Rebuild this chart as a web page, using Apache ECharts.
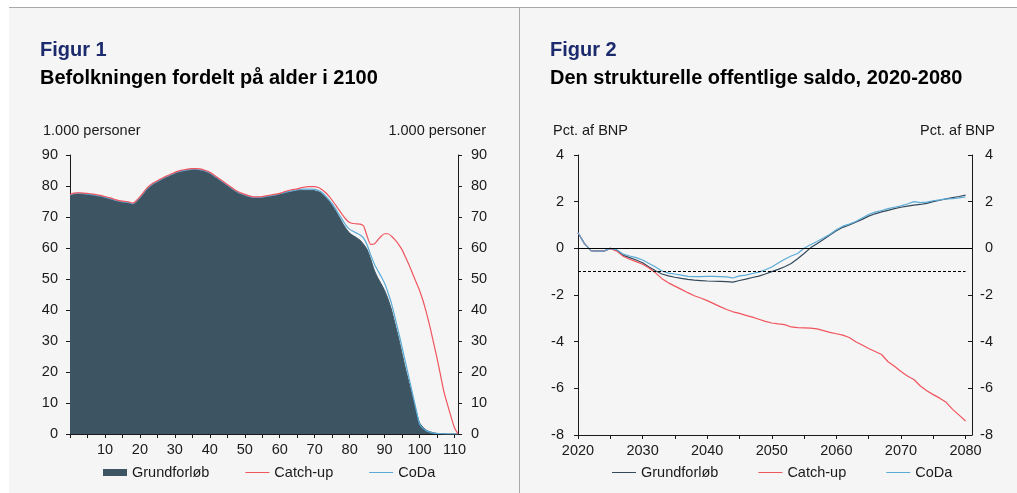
<!DOCTYPE html>
<html>
<head>
    <title></title>
    <meta charset="UTF-8">
    <script src="https://cdn.jsdelivr.net/npm/echarts@6/dist/echarts.min.js"></script>
</head>
<style type="text/css">
    html,
    body {
        height: 100%;
        width: 100%;
        margin: 0;
        padding: 0;
        background: #fff;
        overflow: hidden;
    }
    #panel {
        position: absolute;
        left: 9px;
        top: 7px;
        right: 0;
        bottom: 0;
        background: #f5f5f5;
        border-top: 1px solid #a9a9a9;
    }
    #divider {
        position: absolute;
        left: 519px;
        top: 7px;
        bottom: 0;
        width: 1px;
        background: #a9a9a9;
    }
    #main {
        position: absolute;
        left: 0;
        top: 0;
        width: 1017px;
        height: 493px;
    }
</style>
<body>
    <div id="panel"></div>
    <div id="divider"></div>
    <div id="main"></div>
</body>
<script>
    // Figur 1: alder 0-111
    var ages = [];
    for (var a = 0; a <= 111; a++) ages.push(String(a));

    var grundAlder = [
        77.0, 77.4, 77.5, 77.5, 77.4, 77.3, 77.2, 77.0, 76.8, 76.6,
        76.3, 76.0, 75.7, 75.3, 75.0, 74.8, 74.7, 74.5, 74.2, 75.0,
        76.2, 77.6, 79.0, 80.0, 80.8, 81.4, 82.0, 82.6, 83.1, 83.6,
        84.1, 84.5, 84.8, 85.0, 85.2, 85.3, 85.3, 85.2, 85.0, 84.6,
        84.1, 83.4, 82.6, 81.8, 81.0, 80.2, 79.4, 78.6, 77.9, 77.4,
        77.0, 76.6, 76.3, 76.2, 76.2, 76.3, 76.5, 76.7, 76.9, 77.1,
        77.4, 77.7, 78.0, 78.2, 78.4, 78.5, 78.6, 78.6, 78.6, 78.6,
        78.5, 78.2, 77.6, 76.6, 75.3, 73.8, 72.0, 70.0, 68.0, 66.2,
        64.8, 64.0, 63.3, 62.5, 61.2, 59.5, 56.5, 53.0, 50.5, 48.5,
        46.3, 43.5, 40.0, 35.5, 31.0, 26.0, 21.0, 16.5, 12.0, 7.5,
        3.6, 2.2, 1.2, 0.7, 0.4, 0.2, 0.1, 0.05, 0, 0,
        0, 0
    ];
    var catchAlder = [
        77.3, 77.7, 77.8, 77.8, 77.7, 77.6, 77.5, 77.3, 77.1, 76.9,
        76.6, 76.3, 76.0, 75.6, 75.3, 75.1, 75.0, 74.8, 74.5, 75.3,
        76.5, 77.9, 79.3, 80.3, 81.1, 81.7, 82.3, 82.9, 83.4, 83.9,
        84.4, 84.8, 85.1, 85.3, 85.5, 85.6, 85.6, 85.5, 85.3, 84.9,
        84.4, 83.7, 82.9, 82.1, 81.3, 80.5, 79.7, 78.9, 78.2, 77.7,
        77.3, 76.9, 76.6, 76.5, 76.5, 76.6, 76.8, 77.0, 77.2, 77.4,
        77.6, 78.0, 78.4, 78.7, 78.9, 79.1, 79.4, 79.6, 79.8, 79.8,
        79.8, 79.5, 78.9, 78.0, 76.8, 75.4, 73.8, 72.2, 70.6, 69.2,
        68.2, 67.9, 67.8, 67.7, 67.1, 63.8, 61.2, 61.3, 62.5, 63.8,
        64.6, 64.6, 63.8, 62.6, 61.2, 59.4, 57.0, 54.5, 51.8, 49.0,
        46.3, 43.0, 39.0, 34.5, 29.5, 24.5, 19.0, 13.5, 9.5, 5.6,
        2.0, 0
    ];
    var codaAlder = [
        77.1, 77.5, 77.6, 77.6, 77.5, 77.4, 77.3, 77.1, 76.9, 76.7,
        76.4, 76.1, 75.8, 75.4, 75.1, 74.9, 74.8, 74.6, 74.3, 75.1,
        76.3, 77.7, 79.1, 80.1, 80.9, 81.5, 82.1, 82.7, 83.2, 83.7,
        84.2, 84.6, 84.9, 85.1, 85.3, 85.4, 85.4, 85.3, 85.1, 84.7,
        84.2, 83.5, 82.7, 81.9, 81.1, 80.3, 79.5, 78.7, 78.0, 77.5,
        77.1, 76.7, 76.4, 76.3, 76.3, 76.4, 76.6, 76.8, 77.0, 77.2,
        77.5, 77.8, 78.1, 78.3, 78.6, 78.8, 78.9, 79.0, 79.0, 79.0,
        78.9, 78.6, 78.0, 76.9, 75.7, 74.3, 72.6, 70.8, 69.0, 67.2,
        66.0, 65.4, 64.8, 64.2, 63.2, 61.0, 57.8, 55.0, 52.8, 50.8,
        48.6, 45.5, 42.0, 37.5, 32.8, 28.0, 23.0, 18.0, 13.0, 8.0,
        3.2, 1.8, 1.0, 0.6, 0.3, 0.15, 0.1, 0.05, 0, 0,
        0, 0
    ];

    // Figur 2: år 2020-2081 (data til 2080)
    var years = [];
    for (var y = 2020; y <= 2081; y++) years.push(String(y));

    var grundSaldo = [
        0.67, 0.2, -0.1, -0.12, -0.12, 0.0, -0.08, -0.3, -0.4, -0.5,
        -0.62, -0.8, -0.96, -1.1, -1.18, -1.24, -1.29, -1.33, -1.36, -1.38,
        -1.4, -1.41, -1.42, -1.43, -1.45, -1.38, -1.32, -1.25, -1.19, -1.1,
        -1.0, -0.9, -0.79, -0.65, -0.45, -0.22, 0.02, 0.2, 0.38, 0.57,
        0.75, 0.9, 1.0, 1.12, 1.24, 1.38, 1.48, 1.56, 1.63, 1.7,
        1.76, 1.81, 1.85, 1.88, 1.93, 2.0, 2.06, 2.12, 2.17, 2.22,
        2.28
    ];
    var catchSaldo = [
        0.67, 0.2, -0.1, -0.12, -0.12, 0.0, -0.12, -0.34, -0.47, -0.57,
        -0.68, -0.84, -1.05, -1.3, -1.48, -1.62, -1.76, -1.9, -2.03, -2.13,
        -2.24, -2.37, -2.5, -2.62, -2.72, -2.79, -2.87, -2.95, -3.04, -3.13,
        -3.2, -3.24, -3.27, -3.37, -3.4, -3.41, -3.42, -3.45, -3.53, -3.6,
        -3.66, -3.72, -3.82, -4.0, -4.14, -4.29, -4.42, -4.55, -4.86, -5.05,
        -5.28, -5.47, -5.62, -5.9, -6.1, -6.27, -6.42, -6.6, -6.9, -7.15,
        -7.4
    ];
    var codaSaldo = [
        0.67, 0.2, -0.1, -0.12, -0.12, 0.0, -0.06, -0.25, -0.33, -0.4,
        -0.5, -0.65, -0.8, -0.97, -1.06, -1.1, -1.15, -1.2, -1.21, -1.21,
        -1.2, -1.2, -1.21, -1.22, -1.27, -1.18, -1.15, -1.08, -1.02, -0.92,
        -0.8, -0.63, -0.47, -0.33, -0.22, 0.0, 0.15, 0.29, 0.44, 0.6,
        0.8, 0.95, 1.04, 1.15, 1.3, 1.45, 1.55, 1.62, 1.7, 1.76,
        1.82, 1.9, 2.0, 1.96, 1.98, 2.04, 2.08, 2.12, 2.13, 2.16,
        2.2
    ];

    var FONT = '"Liberation Sans", Arial, sans-serif';
    var TXT = '#1a1a1a';
    var AX = '#1a1a1a';
    var C_AREA = '#3d5463';
    var C_DARK = '#33495a';
    var C_RED = '#f0555e';
    var C_BLUE = '#5aaad6';
    var LINE_ICON = 'path://M0,0H24V1H0Z';

    function title(text, pos, style) {
        var t = { text: text, padding: 0, textStyle: style };
        for (var k in pos) t[k] = pos[k];
        return t;
    }
    var numStyle = { fontFamily: FONT, fontSize: 14.5, fontWeight: 'normal', color: TXT };
    var figStyle = { fontFamily: FONT, fontSize: 20, fontWeight: 'bold', color: '#1c2b6d' };
    var headStyle = { fontFamily: FONT, fontSize: 20, fontWeight: 'bold', color: '#000' };

    function yAx(grid, pos, min, max, interval, inside, margin, align) {
        return {
            type: 'value', gridIndex: grid, position: pos,
            min: min, max: max, interval: interval,
            axisLine: { show: true, lineStyle: { color: AX, width: 1 } },
            axisTick: { show: true, inside: inside, length: 4, lineStyle: { color: AX } },
            axisLabel: { margin: margin, align: align, color: TXT, fontFamily: FONT, fontSize: 14.5 },
            splitLine: { show: false }
        };
    }

    var myChart = echarts.init(document.getElementById('main'), null, { renderer: 'canvas' });

    var option = {
        animation: false,
        backgroundColor: 'transparent',
        title: [
            title('Figur 1', { left: 40, top: 40 }, figStyle),
            title('Befolkningen fordelt på alder i 2100', { left: 40, top: 68 }, headStyle),
            title('1.000 personer', { left: 43, top: 123 }, numStyle),
            title('1.000 personer', { right: 531, top: 123 }, numStyle),
            title('Figur 2', { left: 550, top: 40 }, figStyle),
            title('Den strukturelle offentlige saldo, 2020-2080', { left: 550, top: 68 }, headStyle),
            title('Pct. af BNP', { left: 553, top: 123 }, numStyle),
            title('Pct. af BNP', { right: 22, top: 123 }, numStyle)
        ],
        legend: [
            {
                left: 103, top: 465, padding: 0, itemWidth: 24, itemHeight: 7, itemGap: 36,
                textStyle: { fontFamily: FONT, fontSize: 14.5, color: TXT },
                data: [
                    { name: 'Grundforløb', icon: 'rect' },
                    { name: 'Catch-up', icon: LINE_ICON },
                    { name: 'CoDa', icon: LINE_ICON }
                ]
            },
            {
                left: 612, top: 465, padding: 0, itemWidth: 24, itemHeight: 7, itemGap: 36,
                textStyle: { fontFamily: FONT, fontSize: 14.5, color: TXT },
                data: [
                    { name: 'Grundforløb ', icon: LINE_ICON },
                    { name: 'Catch-up ', icon: LINE_ICON },
                    { name: 'CoDa ', icon: LINE_ICON }
                ]
            }
        ],
        grid: [
            { left: 70, right: 559, top: 155, bottom: 59 },
            { left: 578, right: 45, top: 155, bottom: 58 }
        ],
        xAxis: [
            {
                type: 'category', gridIndex: 0, data: ages, boundaryGap: false,
                axisLine: { lineStyle: { color: AX } },
                axisTick: { length: 4, interval: function (i) { return i % 5 === 0; }, lineStyle: { color: AX } },
                axisLabel: {
                    interval: function (i) { return i % 10 === 0 && i > 0; },
                    color: TXT, fontFamily: FONT, fontSize: 14.5, margin: 8
                }
            },
            {
                type: 'category', gridIndex: 1, data: years, boundaryGap: false,
                axisLine: { onZero: false, lineStyle: { color: AX } },
                axisTick: { length: 4, interval: function (i) { return i % 5 === 0; }, lineStyle: { color: AX } },
                axisLabel: {
                    interval: function (i) { return i % 10 === 0; },
                    color: TXT, fontFamily: FONT, fontSize: 14.5, margin: 8
                }
            }
        ],
        yAxis: [
            yAx(0, 'left', 0, 90, 10, false, 12, 'right'),
            yAx(0, 'right', 0, 90, 10, false, 13, 'left'),
            yAx(1, 'left', -8, 4, 2, false, 14, 'right'),
            yAx(1, 'right', -8, 4, 2, true, 21, 'right')
        ],
        series: [
            {
                name: 'Grundforløb', type: 'line', xAxisIndex: 0, yAxisIndex: 0,
                data: grundAlder, symbol: 'none', smooth: 0.2,
                itemStyle: { color: C_AREA },
                lineStyle: { color: C_AREA, width: 1 },
                areaStyle: { color: C_AREA, opacity: 1 }
            },
            {
                name: 'CoDa', type: 'line', xAxisIndex: 0, yAxisIndex: 0,
                data: codaAlder, symbol: 'none', smooth: 0.2,
                itemStyle: { color: C_BLUE }, lineStyle: { color: C_BLUE, width: 1.2 }
            },
            {
                name: 'Catch-up', type: 'line', xAxisIndex: 0, yAxisIndex: 0,
                data: catchAlder, symbol: 'none', smooth: 0.2,
                itemStyle: { color: C_RED }, lineStyle: { color: C_RED, width: 1.2 }
            },
            {
                name: 'Grundforløb ', type: 'line', xAxisIndex: 1, yAxisIndex: 2,
                data: grundSaldo, symbol: 'none',
                itemStyle: { color: C_DARK }, lineStyle: { color: C_DARK, width: 1.2 },
                markLine: {
                    silent: true, symbol: 'none', label: { show: false },
                    data: [
                        { yAxis: 0, lineStyle: { color: '#000', width: 1, type: 'solid' } },
                        [
                            { coord: ['2020', -1], lineStyle: { color: '#000', width: 1, type: [3, 2] } },
                            { coord: ['2080', -1] }
                        ]
                    ]
                }
            },
            {
                name: 'Catch-up ', type: 'line', xAxisIndex: 1, yAxisIndex: 2,
                data: catchSaldo, symbol: 'none',
                itemStyle: { color: C_RED }, lineStyle: { color: C_RED, width: 1.2 }
            },
            {
                name: 'CoDa ', type: 'line', xAxisIndex: 1, yAxisIndex: 2,
                data: codaSaldo, symbol: 'none',
                itemStyle: { color: C_BLUE }, lineStyle: { color: C_BLUE, width: 1.2 }
            }
        ]
    };

    myChart.setOption(option);
    window.addEventListener("resize", function () {
        myChart.resize();
    });
</script>
</html>
